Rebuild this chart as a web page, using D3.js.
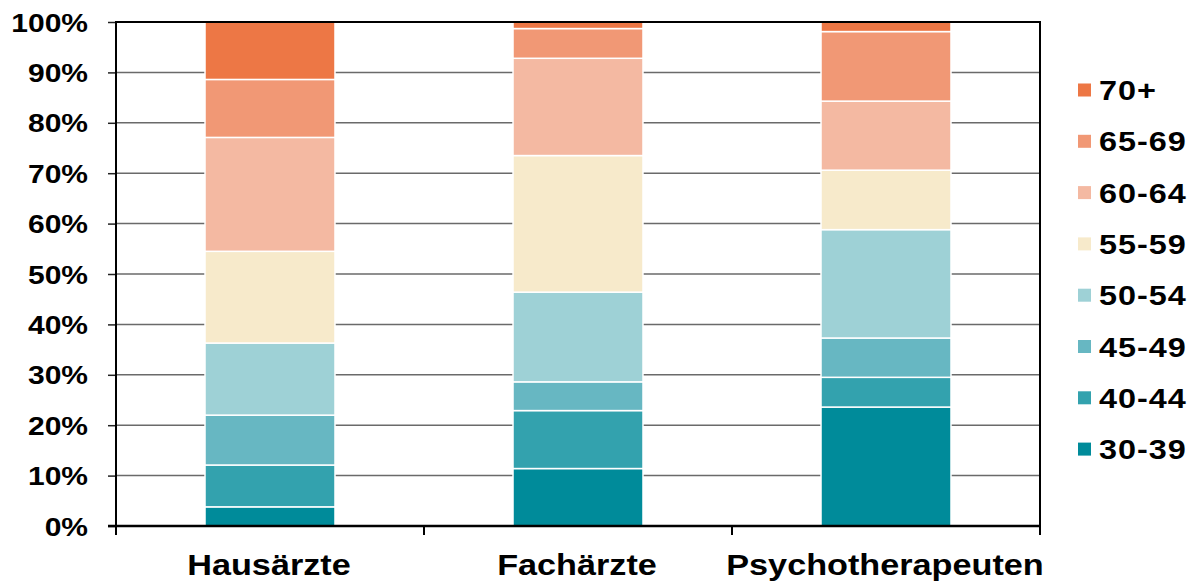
<!DOCTYPE html>
<html><head><meta charset="utf-8">
<script src="https://cdn.jsdelivr.net/npm/d3@7"></script>
<style>
html,body{margin:0;padding:0;background:#fff;}
svg{display:block;font-family:"Liberation Sans",Arial,sans-serif;font-weight:bold;}
</style></head>
<body><svg id="c" width="1192" height="583"></svg>
<script>
const categories = ["Hausärzte", "Fachärzte", "Psychotherapeuten"];
const ageGroups = ["30-39", "40-44", "45-49", "50-54", "55-59", "60-64", "65-69", "70+"];
const v3039 = [3.8, 11.4, 23.6];
const v4044 = [8.3, 11.5, 5.9];
const v4549 = [9.9, 5.7, 7.8];
const v5054 = [14.3, 17.8, 21.5];
const v5559 = [18.2, 27.1, 11.8];
const v6064 = [22.6, 19.3, 13.7];
const v6569 = [11.5, 5.9, 13.8];
const v70 = [11.4, 1.3, 1.9];
const yTicks = [0, 10, 20, 30, 40, 50, 60, 70, 80, 90, 100];
const colors = ["#008B9A", "#33A2AE", "#67B7C2", "#9ED1D6", "#F7EACB", "#F4B9A2", "#F19875", "#ED7745"];

const seriesValues = [v3039, v4044, v4549, v5054, v5559, v6064, v6569, v70];
const rows = categories.map((c, i) => {
  const r = {cat: c};
  ageGroups.forEach((g, k) => r[g] = seriesValues[k][i]);
  return r;
});

const SX = 1.2;
const svg = d3.select("#c");
const L = 116, R = 1040, T = 22, B = 526;
const x = d3.scaleBand().domain(categories).range([L, R]).paddingInner(0.578).paddingOuter(0.289);
const y = d3.scaleLinear().domain([0, 100]).range([B, T]);

// gridlines
svg.append("g").selectAll("line").data(yTicks.filter(t => t > 0 && t < 100)).join("line")
  .attr("x1", L).attr("x2", R).attr("y1", d => y(d)).attr("y2", d => y(d))
  .attr("stroke", "#6a6a6a").attr("stroke-width", 1.5);

// bars
const stack = d3.stack().keys(ageGroups)(rows);
svg.append("g").selectAll("g").data(stack).join("g")
  .attr("fill", (d, i) => colors[i])
  .selectAll("rect").data(d => d).join("rect")
  .attr("x", d => x(d.data.cat)).attr("width", x.bandwidth())
  .attr("y", d => y(d[1])).attr("height", d => y(d[0]) - y(d[1]))
  .attr("stroke", "#fff").attr("stroke-width", 1.5);

// frame: top & right
svg.append("line").attr("x1", L).attr("x2", R + 1).attr("y1", T).attr("y2", T).attr("stroke", "#000").attr("stroke-width", 2);
svg.append("line").attr("x1", R).attr("x2", R).attr("y1", T).attr("y2", B + 9).attr("stroke", "#000").attr("stroke-width", 2);

// y axis
const yAxis = svg.append("g").attr("transform", `translate(${L},0)`)
  .call(d3.axisLeft(y).tickValues(yTicks).tickSize(8).tickPadding(0).tickFormat(d => d + "%"));
yAxis.select(".domain").remove();
yAxis.selectAll(".tick line").attr("stroke", "#222").attr("stroke-width", 1.5);
yAxis.selectAll(".tick text")
  .attr("x", -28 / SX).attr("dy", "0.36em")
  .attr("transform", `scale(${SX},1)`)
  .attr("font-size", 25).attr("font-weight", "bold").attr("fill", "#000")
  .attr("font-family", '"Liberation Sans", Arial, sans-serif');
svg.append("line").attr("x1", L).attr("x2", L).attr("y1", T - 1).attr("y2", B + 8).attr("stroke", "#000").attr("stroke-width", 2);

// x axis
svg.append("line").attr("x1", L - 8).attr("x2", R + 1).attr("y1", B).attr("y2", B).attr("stroke", "#000").attr("stroke-width", 2.5);
const step = x.step(), gap = (step - x.bandwidth()) / 2;
const bounds = categories.map(c => x(c) - gap).concat([x(categories[categories.length - 1]) + x.bandwidth() + gap]);
svg.append("g").selectAll("line").data(bounds).join("line")
  .attr("x1", d => d).attr("x2", d => d).attr("y1", B).attr("y2", B + 9)
  .attr("stroke", "#000").attr("stroke-width", 2);
svg.append("g").selectAll("text").data(categories).join("text")
  .attr("transform", d => `translate(${x(d) + x.bandwidth() / 2 - 1},575) scale(1.18,1)`)
  .attr("text-anchor", "middle").attr("font-size", 29).attr("fill", "#000")
  .text(d => d);

// legend
const legendOrder = ageGroups.slice().reverse();
const lg = svg.append("g").selectAll("g").data(legendOrder).join("g")
  .attr("transform", (d, i) => `translate(1078,${90 + i * 51.3})`);
lg.append("rect").attr("x", 0).attr("y", -6.5).attr("width", 13).attr("height", 13)
  .attr("fill", d => colors[ageGroups.indexOf(d)]);
lg.append("text").attr("transform", `translate(21,10) scale(${SX},1)`)
  .attr("font-size", 27).attr("letter-spacing", 0.8).attr("fill", "#000").text(d => d);
</script></body></html>
